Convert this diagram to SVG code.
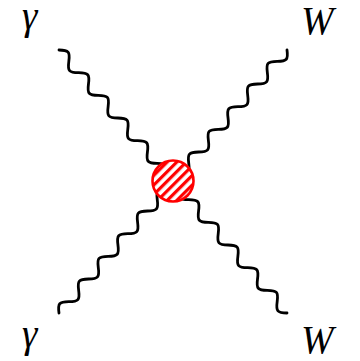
<svg xmlns="http://www.w3.org/2000/svg" width="360" height="361" viewBox="0 0 360 361">
  <defs>
    <style>
      .wave { fill: none; stroke: #000; stroke-width: 2.8; stroke-linecap: round; stroke-linejoin: round; }
      .lbl { font-family: "Liberation Serif", "Times New Roman", serif; font-style: italic; font-size: 39px; fill: #000; }
    </style>
    <path id="photon" d="M0,0 c6.37,-7.3 8.63,-7.3 15,0 s8.63,7.3 15,0 s8.63,-7.3 15,0 s8.63,7.3 15,0 s8.63,-7.3 15,0 s8.63,7.3 15,0 s8.63,-7.3 15,0 s8.63,7.3 15,0 s8.63,-7.3 15,0 s8.63,7.3 15,0 s8.63,-7.3 15,0 s8.63,7.3 15,0"/>
    <pattern id="hatch" patternUnits="userSpaceOnUse" width="6.8" height="6.8" patternTransform="rotate(-45)">
      <rect x="0" y="0" width="6.8" height="6.8" fill="#fff"/>
      <rect x="0" y="0" width="6.8" height="3.2" fill="#f00"/>
    </pattern>
  </defs>
  <rect width="360" height="361" fill="#fff"/>
  <g id="connectors">
    <use href="#photon" class="wave" transform="translate(59,50) rotate(49.08)"/>
    <use href="#photon" class="wave" transform="translate(287,50) rotate(130.92)"/>
    <use href="#photon" class="wave" transform="translate(59,313) rotate(-49.08)"/>
    <use href="#photon" class="wave" transform="translate(287,313) rotate(-130.92)"/>
  </g>
  <g id="vertex">
    <circle cx="173" cy="181" r="20.5" fill="url(#hatch)" stroke="#f00" stroke-width="2.6"/>
  </g>
  <g id="gamma-in-top"><text class="lbl" x="22" y="29">γ</text></g>
  <g id="W-out-top"><text class="lbl" x="301" y="34">W</text></g>
  <g id="gamma-in-bottom"><text class="lbl" x="22" y="347">γ</text></g>
  <g id="W-out-bottom"><text class="lbl" x="301" y="353">W</text></g>
</svg>
